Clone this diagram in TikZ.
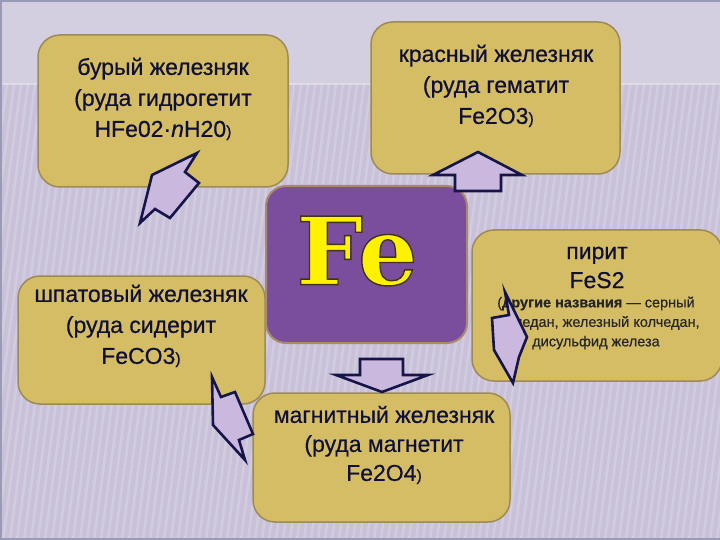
\documentclass[tikz,border=0pt]{standalone}
\usepackage{fontspec}
\setmainfont[FakeBold=0.6]{Liberation Sans}
\newfontfamily\wideface[FakeBold=0.4]{Liberation Sans}
\newfontfamily\feface[FakeBold=1.5]{DejaVu Serif}
\definecolor{bgtop}{HTML}{D3CEE0}
\definecolor{bgmain}{HTML}{C9C1D9}
\definecolor{gold}{HTML}{D5BD66}
\definecolor{goldedge}{HTML}{9E8A55}
\definecolor{purp}{HTML}{7A4E9C}
\definecolor{purpedge}{HTML}{A98A6A}
\definecolor{navy}{HTML}{15154A}
\definecolor{arrfill}{HTML}{CBB8DE}
\definecolor{txtc}{HTML}{101035}
\tikzset{
  box/.style={draw=goldedge, line width=1.5pt, fill=gold, rounded corners=22pt, inner sep=0pt},
  febox/.style={draw=purpedge, line width=2pt, fill=purp, rounded corners=20pt, inner sep=0pt},
  txt/.style={text=txtc, align=center, font=\fontsize{23}{31}\selectfont, inner sep=0pt},
  smalltxt/.style={text=black!85, align=center, font=\wideface\fontsize{14.5}{19.5}\selectfont, inner sep=0pt},
  blockarrow/.style={draw=navy, line width=2.6pt, fill=arrfill, line join=miter}
}
\begin{document}
\begin{tikzpicture}[x=1pt,y=-1pt]
\useasboundingbox (0,0) rectangle (720,540);
% background
\fill[bgmain] (0,0) rectangle (720,540);
\fill[bgtop] (0,0) rectangle (720,84);
\begin{scope}
\clip (0,84) rectangle (720,540);
\foreach \i in {-40,...,120}{
  \draw[white, opacity=0.18, line width=2.5pt] (\i*7,84) -- (\i*7-60,540);
}
\end{scope}
\draw[white, opacity=0.35, line width=1.2pt] (0,84) -- (720,84);
\draw[black!70!blue!40, line width=2.5pt] (0,1) -- (720,1);
\draw[black!70!blue!40, line width=2.5pt] (1,0) -- (1,540);
\draw[black!70!blue!40, line width=2.5pt] (0,539) -- (720,539);

% boxes
\node[box, minimum width=250pt, minimum height=152pt] (b1) at (163,111) {};
\node[box, minimum width=249pt, minimum height=152pt] (b2) at (495.5,98) {};
\node[box, minimum width=250pt, minimum height=151pt] (b4) at (597,305.5) {};
\node[box, minimum width=247pt, minimum height=128pt] (b5) at (141.5,340) {};
\node[box, minimum width=257pt, minimum height=129pt] (b6) at (381.5,457.5) {};
\node[febox, minimum width=201pt, minimum height=157pt] (fe) at (366.5,264.5) {};

% texts
\node[txt] (t1) at (163,99) {бурый железняк\\(руда гидрогетит\\HFe02·\textit{n}H20{\fontsize{16}{16}\selectfont)}};
\node[txt] (t2) at (496,86) {красный железняк\\(руда гематит\\Fe2O3{\fontsize{16}{16}\selectfont)}};
\node[txt] (t5) at (141,326) {шпатовый железняк\\(руда сидерит\\FeCO3{\fontsize{16}{16}\selectfont)}};
\node[txt, font=\wideface\fontsize{23}{29}\selectfont] (t6) at (384,445) {магнитный железняк\\(руда магнетит\\Fe2O4{\fontsize{16}{16}\selectfont)}};
\node[txt, font=\fontsize{23}{29}\selectfont] (t4a) at (597,267.5) {пирит\\FeS2};
\node[smalltxt] (t4b) at (596,323) {(\textbf{другие названия} — серный\\колчедан, железный колчедан,\\дисульфид железа};

% Fe (dark outline instead of duplicate shadow text)
\node[text=yellow, font=\feface\bfseries\fontsize{94}{94}\selectfont, inner sep=0pt] (fetxt) at (357,251)
  {\special{pdf:literal direct 2 Tr 1.4 w 0.25 0.2 0.1 RG}Fe\special{pdf:literal direct 0 Tr}};

% block arrows
\draw[blockarrow] (478,152) -- (522,175) -- (501,175) -- (501,191) -- (455,191) -- (455,175) -- (433,175) -- cycle;
\draw[blockarrow] (360,359) -- (403,359) -- (403,375) -- (428,375) -- (382,392) -- (336,375) -- (360,375) -- cycle;
\draw[blockarrow] (197,153) -- (185,172) -- (199,183) -- (170,218) -- (155,209) -- (140,223) -- (152,175) -- cycle;
\draw[blockarrow] (212,377) -- (221,397) -- (235,392) -- (253,434) -- (239,440) -- (245,460) -- (213,425) -- cycle;
\draw[blockarrow] (505,292) -- (527,337) -- (519,357) -- (513,383) -- (494,350) -- (492,318) -- (509,315) -- cycle;
\end{tikzpicture}
\end{document}
